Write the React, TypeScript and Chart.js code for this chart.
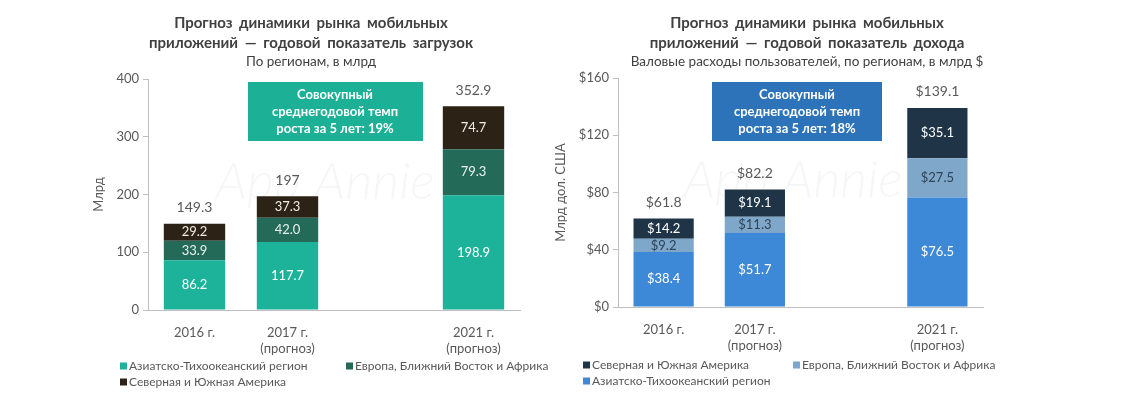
import React, { useEffect, useRef } from 'react';
import { Chart, registerables } from 'chart.js';

Chart.register(...registerables);

const FAMILY = 'Lato, Roboto, sans-serif';

// ---- data ----
const categories: string[][] = [['2016 г.'], ['2017 г.', '(прогноз)'], [''], ['2021 г.', '(прогноз)']];
const seriesNames = ['Азиатско-Тихоокеанский регион', 'Европа, Ближний Восток и Африка', 'Северная и Южная Америка'];

const downloadsAsia = [86.2, 117.7, null, 198.9];
const downloadsEurope = [33.9, 42.0, null, 79.3];
const downloadsAmericas = [29.2, 37.3, null, 74.7];
const downloadsTotals = [149.3, 197, null, 352.9];
const downloadsTicks = [0, 100, 200, 300, 400];

const revenueAsia = [38.4, 51.7, null, 76.5];
const revenueEurope = [9.2, 11.3, null, 27.5];
const revenueAmericas = [14.2, 19.1, null, 35.1];
const revenueTotals = [61.8, 82.2, null, 139.1];
const revenueTicks = [0, 40, 80, 120, 160];

const downloadsTitle = ['Прогноз динамики рынка мобильных', 'приложений — годовой показатель загрузок'];
const downloadsSubtitle = 'По регионам, в млрд';
const downloadsBox = ['Совокупный', 'среднегодовой темп', 'роста за 5 лет: 19%'];
const revenueTitle = ['Прогноз динамики рынка мобильных', 'приложений — годовой показатель дохода'];
const revenueSubtitle = 'Валовые расходы пользователей, по регионам, в млрд $';
const revenueBox = ['Совокупный', 'среднегодовой темп', 'роста за 5 лет: 18%'];

type Panel = {
  canvasX: number;
  canvasW: number;
  padL: number;
  padR: number;
  padT: number;
  yW: number;
  xH: number;
  title: string[];
  subtitle: string;
  titleCx: number;
  boxRect: [number, number, number, number];
  boxColor: string;
  boxLines: string[];
  boxCx: number;
  legendOrder: number[];
  legendPos: [number, number][];
  wmCx: number;
  data: (number | null)[][];
  totals: (number | null)[];
  colors: string[];
  labelColors: string[];
  ticks: number[];
  yTitle: string;
  dollar: boolean;
};

const panels: Panel[] = [
  {
    canvasX: 0,
    canvasW: 548,
    padL: 88,
    padR: 28,
    padT: 79,
    yW: 60,
    xH: 89,
    title: downloadsTitle,
    subtitle: downloadsSubtitle,
    titleCx: 311,
    boxRect: [248, 82, 175, 59],
    boxColor: '#1cb096',
    boxLines: downloadsBox,
    boxCx: 335,
    legendOrder: [0, 1, 2],
    legendPos: [[120, 366], [346, 366], [120, 382]],
    wmCx: 325,
    data: [downloadsAsia, downloadsEurope, downloadsAmericas],
    totals: downloadsTotals,
    colors: ['#1cb39a', '#246a58', '#2d2216'],
    labelColors: ['#ffffff', '#e6f3ef', '#f3ece2'],
    ticks: downloadsTicks,
    yTitle: 'Млрд',
    dollar: false,
  },
  {
    canvasX: 548,
    canvasW: 573,
    padL: 2,
    padR: 138,
    padT: 78,
    yW: 68,
    xH: 92,
    title: revenueTitle,
    subtitle: revenueSubtitle,
    titleCx: 259,
    boxRect: [164, 82, 170, 59],
    boxColor: '#2c73b9',
    boxLines: revenueBox,
    boxCx: 249,
    legendOrder: [2, 1, 0],
    legendPos: [[35, 365], [245, 365], [35, 381]],
    wmCx: 245,
    data: [revenueAsia, revenueEurope, revenueAmericas],
    totals: revenueTotals,
    colors: ['#3d88d7', '#7fa7c9', '#1f3447'],
    labelColors: ['#ffffff', '#2f4457', '#ffffff'],
    ticks: revenueTicks,
    yTitle: 'Млрд дол. США',
    dollar: true,
  },
];

function makeDecor(p: Panel) {
  const fmt = (v: number, oneDecimal: boolean) =>
    (p.dollar ? '$' : '') + (oneDecimal ? v.toFixed(1) : String(v));
  return {
    id: 'panelDecor',
    beforeDatasetsDraw(chart: any) {
      const ctx = chart.ctx;
      const area = chart.chartArea;
      ctx.save();
      ctx.font = `italic 300 52px ${FAMILY}`;
      ctx.fillStyle = 'rgba(0,0,0,0.035)';
      ctx.textAlign = 'center';
      ctx.textBaseline = 'middle';
      ctx.fillText('App Annie', p.wmCx, (area.top + area.bottom) / 2 - 12);
      ctx.restore();
    },
    afterDraw(chart: any) {
      const ctx = chart.ctx;
      ctx.save();
      // titles
      ctx.textAlign = 'center';
      ctx.textBaseline = 'middle';
      ctx.fillStyle = '#404040';
      ctx.font = `bold 15px ${FAMILY}`;
      try { (ctx as any).wordSpacing = '3px'; } catch (e) {}
      ctx.fillText(p.title[0], p.titleCx, 23);
      ctx.fillText(p.title[1], p.titleCx, 43);
      try { (ctx as any).wordSpacing = '0px'; } catch (e) {}
      ctx.font = `13.5px ${FAMILY}`;
      ctx.fillStyle = '#404040';
      ctx.fillText(p.subtitle, p.titleCx, 62);

      // annotation box
      const [bx, by, bw, bh] = p.boxRect;
      ctx.fillStyle = p.boxColor;
      ctx.fillRect(bx, by, bw, bh);
      ctx.fillStyle = '#ffffff';
      ctx.font = `bold 13px ${FAMILY}`;
      p.boxLines.forEach((t, i) => ctx.fillText(t, p.boxCx, by + 13 + i * 17));

      // segment labels
      ctx.font = `13px ${FAMILY}`;
      chart.data.datasets.forEach((ds: any, di: number) => {
        const meta = chart.getDatasetMeta(di);
        meta.data.forEach((el: any, j: number) => {
          const v = ds.data[j];
          if (v == null) return;
          ctx.fillStyle = p.labelColors[di];
          ctx.fillText(fmt(v, true), el.x, (el.y + el.base) / 2);
        });
      });

      // totals
      ctx.font = `14px ${FAMILY}`;
      ctx.fillStyle = '#595959';
      const lastMeta = chart.getDatasetMeta(chart.data.datasets.length - 1);
      p.totals.forEach((t, j) => {
        if (t == null) return;
        const el = lastMeta.data[j];
        ctx.fillText(fmt(t, p.dollar), el.x, el.y - 16);
      });

      // legend
      ctx.font = `12px ${FAMILY}`;
      ctx.textAlign = 'left';
      p.legendOrder.forEach((di, k) => {
        const [lx, ly] = p.legendPos[k];
        ctx.fillStyle = p.colors[di];
        ctx.fillRect(lx, ly - 3.5, 7, 7);
        ctx.fillStyle = '#595959';
        ctx.fillText(chart.data.datasets[di].label, lx + 9, ly);
      });
      ctx.restore();
    },
  };
}

function PanelChart({ p }: { p: Panel }) {
  const ref = useRef<HTMLCanvasElement | null>(null);
  useEffect(() => {
    if (!ref.current) return;
    const tickFont = { family: FAMILY, size: 13, lineHeight: 1.2 };
    const chart = new Chart(ref.current, {
      type: 'bar',
      data: {
        labels: categories,
        datasets: p.data.map((d, i) => ({
          label: seriesNames[i],
          data: d,
          backgroundColor: p.colors[i],
          barPercentage: 0.66,
          categoryPercentage: 1,
        })),
      },
      options: {
        responsive: false,
        animation: false,
        events: [],
        layout: { padding: { left: p.padL, right: p.padR, top: p.padT, bottom: 0 } },
        plugins: {
          legend: { display: false },
          title: { display: false },
          tooltip: { enabled: false },
        },
        scales: {
          x: {
            stacked: true,
            grid: { display: false },
            border: { display: true, color: '#bfbfbf' },
            ticks: { color: '#595959', font: tickFont, padding: 7, maxRotation: 0, autoSkip: false },
            afterFit: (s: any) => { s.height = p.xH; },
          },
          y: {
            stacked: true,
            min: p.ticks[0],
            max: p.ticks[p.ticks.length - 1],
            afterBuildTicks: (s: any) => { s.ticks = p.ticks.map((v) => ({ value: v })); },
            ticks: {
              color: '#595959',
              font: tickFont,
              padding: 4,
              callback: (v: any) => (p.dollar ? '$' : '') + v,
            },
            grid: { display: true, drawOnChartArea: false, drawTicks: true, tickLength: 5, color: '#bfbfbf' },
            border: { display: true, color: '#bfbfbf' },
            title: {
              display: true,
              text: p.yTitle,
              color: '#595959',
              font: { family: FAMILY, size: 13 },
              padding: { top: 3, bottom: 0 },
            },
            afterFit: (s: any) => { s.width = p.yW; },
          },
        },
      },
      plugins: [makeDecor(p)],
    } as any);
    return () => chart.destroy();
  }, [p]);
  return (
    <canvas
      ref={ref}
      width={p.canvasW}
      height={399}
      style={{ position: 'absolute', left: p.canvasX, top: 0, width: p.canvasW, height: 399 }}
    />
  );
}

export default function App() {
  return (
    <div style={{ position: 'absolute', left: 0, top: 0, width: 1121, height: 399, background: '#ffffff', overflow: 'hidden' }}>
      {panels.map((p, i) => (
        <PanelChart key={i} p={p} />
      ))}
    </div>
  );
}
